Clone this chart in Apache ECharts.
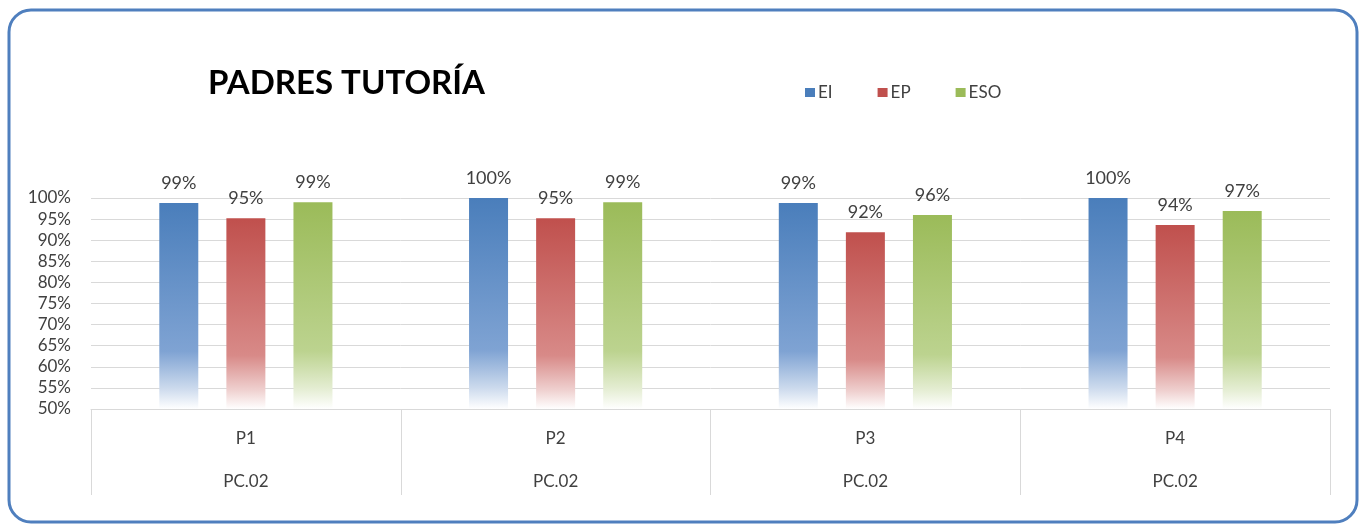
<!DOCTYPE html>
<html>
<head>
<meta charset="utf-8">
<script src="https://cdn.jsdelivr.net/npm/echarts@6/dist/echarts.min.js"></script>
<style>
html,body{margin:0;padding:0;background:#fff;}
#c{width:1367px;height:529px;}
</style>
</head>
<body>
<div id="c"></div>
<script>
const categories = ['P1', 'P2', 'P3', 'P4'];
const groups = ['PC.02', 'PC.02', 'PC.02', 'PC.02'];
const seriesNames = ['EI', 'EP', 'ESO'];
const valuesEI = [98.8, 100, 98.8, 100];
const valuesEP = [95.2, 95.2, 91.9, 93.6];
const valuesESO = [99.0, 99.0, 96.0, 96.9];
const yTicks = [50, 55, 60, 65, 70, 75, 80, 85, 90, 95, 100];

const colors = [
  ['#4a7ebb', '#7fa3d3'],
  ['#c0504d', '#d88a88'],
  ['#9bbb59', '#bcd38f']
];

function grad(c) {
  return new echarts.graphic.LinearGradient(0, 0, 0, 1, [
    { offset: 0, color: c[0] },
    { offset: 0.72, color: c[1] },
    { offset: 0.9, color: echarts.color.lerp(0.6, [c[1], '#ffffff']) },
    { offset: 1, color: '#ffffff' }
  ]);
}

const chart = echarts.init(document.getElementById('c'));
const data = [valuesEI, valuesEP, valuesESO];

chart.setOption({
  animation: false,
  textStyle: { fontFamily: 'Lato, "Open Sans", sans-serif' },
  graphic: [{
    type: 'rect',
    shape: { x: 9, y: 10, width: 1348, height: 512, r: 22 },
    style: { fill: 'none', stroke: '#4f7fbe', lineWidth: 3 },
    z: 100
  }],
  title: {
    text: 'PADRES TUTORÍA',
    left: 203,
    top: 62,
    textStyle: { fontSize: 33, fontWeight: 'bold', color: '#000', fontFamily: 'Lato, sans-serif' }
  },
  legend: {
    data: seriesNames.map(function (n, k) { return { name: n, itemStyle: { color: colors[k][0] } }; }),
    left: 800,
    top: 79,
    icon: 'rect',
    itemWidth: 10,
    itemHeight: 9,
    itemGap: 45,
    textStyle: { fontSize: 17, color: '#404040', padding: [0, 0, 0, -2] }
  },
  grid: { left: 91, right: 37, top: 198, bottom: 120, containLabel: false },
  xAxis: {
    type: 'category',
    data: categories,
    axisLine: { lineStyle: { color: '#d9d9d9', width: 1 } },
    axisTick: { show: true, length: 86, lineStyle: { color: '#d9d9d9' } },
    axisLabel: {
      margin: 8,
      formatter: function (v, i) { return '{a|' + v + '}\n{b|' + groups[i] + '}'; },
      rich: {
        a: { fontSize: 17, color: '#404040', lineHeight: 43 },
        b: { fontSize: 17, color: '#404040', lineHeight: 43 }
      }
    }
  },
  yAxis: {
    type: 'value',
    min: yTicks[0],
    max: yTicks[yTicks.length - 1],
    interval: 5,
    axisLine: { show: false },
    axisTick: { show: false },
    splitLine: { lineStyle: { color: '#d9d9d9', width: 1 } },
    axisLabel: { formatter: '{value}%', fontSize: 17, color: '#404040', margin: 20 }
  },
  series: seriesNames.map(function (n, k) {
    return {
      name: n,
      type: 'bar',
      data: data[k],
      barWidth: 39,
      barGap: '72%',
      itemStyle: { color: grad(colors[k]) },
      label: {
        show: true,
        position: 'top',
        distance: 11,
        fontSize: 18,
        color: '#404040',
        formatter: function (p) { return Math.round(p.value) + '%'; }
      }
    };
  })
});
</script>
</body>
</html>
